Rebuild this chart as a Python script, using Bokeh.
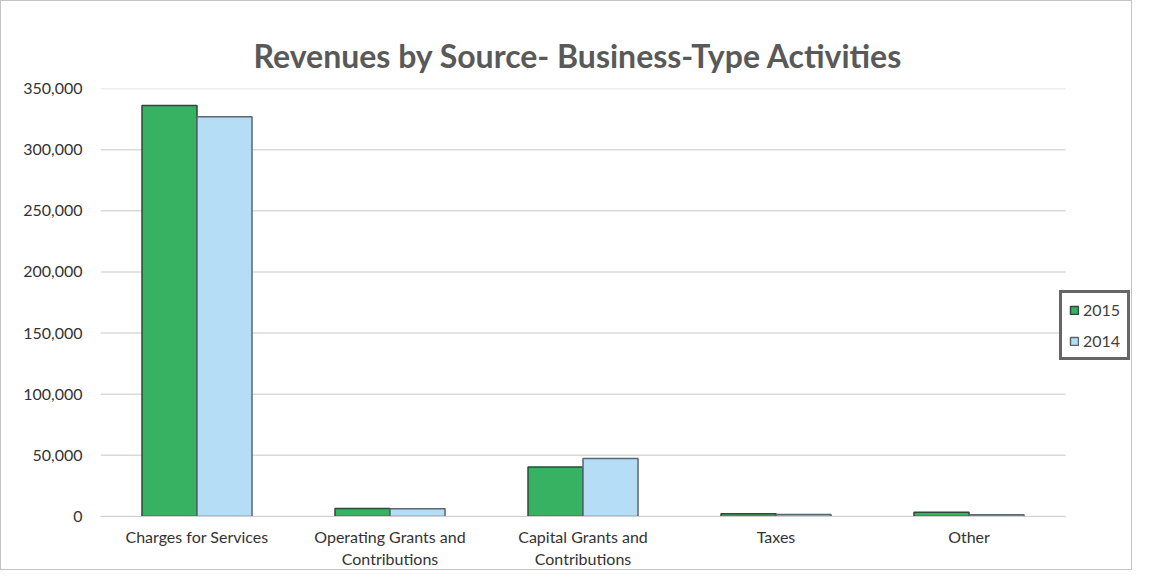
from bokeh.plotting import figure
from bokeh.models import ColumnDataSource, NumeralTickFormatter, Legend, LegendItem, FixedTicker
from bokeh.embed import file_html
from bokeh.resources import INLINE

categories = ["Charges for Services", "Operating Grants and\nContributions",
              "Capital Grants and\nContributions", "Taxes", "Other"]
values_2015 = [336000, 6600, 40400, 2200, 3500]
values_2014 = [327000, 6300, 47500, 1700, 1500]
y_ticks = [0, 50000, 100000, 150000, 200000, 250000, 300000, 350000]

idx = list(range(len(categories)))
bw = 0.285
src = ColumnDataSource(dict(cat=categories,
                            x15=[i - bw / 2 for i in idx], x14=[i + bw / 2 for i in idx],
                            v2015=values_2015, v2014=values_2014))

FONT = "Lato"
n = len(categories)
p = figure(x_range=(-0.5, -0.5 + 5.347), y_range=(0, 350000),
           width=1132, height=570, output_backend="svg", toolbar_location=None,
           min_border_left=99, min_border_right=1, min_border_top=87, min_border_bottom=54,
           title="Revenues by Source- Business-Type Activities")
p.styles = {"border": "1px solid #c4c4c4"}
p.title.align = "left"
p.title.offset = 153
p.title.text_font = FONT
p.title.text_font_size = "32px"
p.title.text_font_style = "bold"
p.title.text_color = "#595959"
p.title.standoff = 28

# horizontal gridlines spanning only the category area
p.segment(x0=[-0.5] * len(y_ticks), x1=[n - 0.5] * len(y_ticks), y0=y_ticks, y1=y_ticks,
          line_color="#dadada", line_width=1.5)

r15 = p.vbar(x="x15", top="v2015", width=bw, source=src,
             fill_color="#37b162", line_color="#2d4a38", line_width=1.5)
r14 = p.vbar(x="x14", top="v2014", width=bw, source=src,
             fill_color="#b5def6", line_color="#5a6670", line_width=1.5)

p.outline_line_color = None
p.background_fill_color = "white"
p.border_fill_color = "white"
p.xgrid.grid_line_color = None
p.ygrid.grid_line_color = None

p.yaxis.ticker = y_ticks
p.yaxis.formatter = NumeralTickFormatter(format="0,0")
p.yaxis.axis_line_color = None
p.yaxis.major_tick_line_color = None
p.yaxis.minor_tick_line_color = None
p.yaxis.major_tick_out = 0
p.yaxis.major_label_text_font = FONT
p.yaxis.major_label_text_font_size = "16px"
p.yaxis.major_label_text_color = "#333333"
p.yaxis.major_label_standoff = 18

p.xaxis.ticker = FixedTicker(ticks=idx)
p.xaxis.major_label_overrides = {i: c for i, c in zip(idx, categories)}
p.xaxis.bounds = (-0.5, n - 0.5)
p.xaxis.axis_line_color = "#d0d0d0"
p.xaxis.major_tick_line_color = None
p.xaxis.minor_tick_line_color = None
p.xaxis.major_tick_out = 0
p.xaxis.major_tick_in = 0
p.xaxis.major_label_text_font = FONT
p.xaxis.major_label_text_font_size = "16px"
p.xaxis.major_label_text_color = "#333333"
p.xaxis.major_label_standoff = 10

legend = Legend(items=[LegendItem(label="2015", renderers=[r15]),
                       LegendItem(label="2014", renderers=[r14])],
                location=(959, 156))
legend.label_text_font = FONT
legend.label_text_font_size = "16px"
legend.label_text_color = "#404040"
legend.glyph_width = 10
legend.glyph_height = 10
legend.label_height = 16
legend.label_standoff = 4
legend.spacing = 12
legend.padding = 7
legend.margin = 0
legend.border_line_color = "#666666"
legend.border_line_alpha = 1
legend.border_line_width = 3
legend.background_fill_color = "white"
legend.background_fill_alpha = 1
p.add_layout(legend, "center")

open("out.html", "w").write(file_html(p, INLINE))
